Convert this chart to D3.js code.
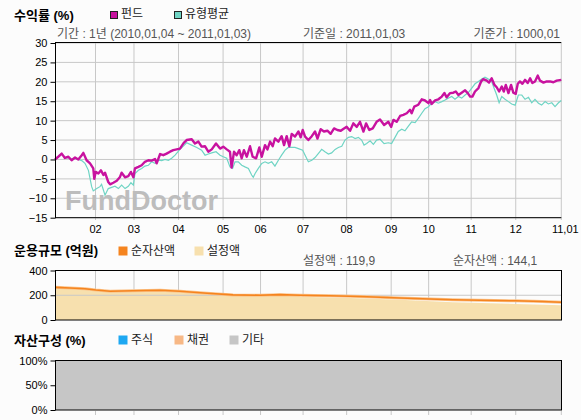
<!DOCTYPE html>
<html><head><meta charset="utf-8">
<script src="https://cdn.jsdelivr.net/npm/d3@7/dist/d3.min.js"></script>
<style>
body{margin:0;background:#fcfcfc;}
svg{display:block;font-family:"Liberation Sans","Noto Sans CJK KR",sans-serif;}
</style></head><body>
<svg id="c" width="581" height="420"></svg>
<script>
// ---- data ----
const monthTickDays = [20, 39, 61, 83, 101.5, 122.5, 144, 166, 184.5, 205.5, 227.5, 250];
const monthTickLabels = ["02","03","04","05","06","07","08","09","10","11","12","11,01"];
const returnTicks = [30,25,20,15,10,5,0,-5,-10,-15];
const sizeTicks = [400,200,0];
const mixTicks = [100,50,0];

// fund return (%) : [trading day, value]
const fundReturn = [
[0,0],[1.6,0.7],[3.3,1.5],[4.9,0.4],[6.6,0.7],[8.2,-0.2],[9.9,0.5],[11.5,0],[13.2,1.1],[14,1.7],[15.6,-0.2],[17.3,-1],[18.9,-2.3],[19.4,-5],[20.1,-3.2],[21.4,-3.6],[22.7,-2.8],[23.9,-4],[24.7,-3.4],[26.3,-5.8],[27.2,-6.4],[28.8,-6],[30.5,-5.5],[32.1,-4.5],[32.9,-3.4],[34.6,-4.6],[36.2,-4.3],[37.5,-3.2],[38.7,-4.6],[39.5,-2.3],[41.2,-1.9],[42.8,-1.5],[44.4,-0.6],[46.1,-0.2],[47.7,-0.3],[49.4,0.1],[50.2,-1],[51.9,1.4],[53.5,1.1],[55.1,1.5],[56.8,2],[58.4,2.4],[60.1,2.6],
[61.7,2.8],[63.5,4.2],[65,5],[67.5,5.2],[69.1,4.1],[70.8,4.6],[72.4,3.3],[74.1,3.4],[75.7,2],[77.4,2.6],[79.5,4.1],[81.5,2.8],[83.1,3.3],[84.8,2.6],[86.4,2],[87.2,-2.1],[88.4,2],[89.7,1.1],[91,2.4],[92.2,0.3],[93.3,2.4],[94.7,0.7],[96.3,3.4],[97.6,0.7],[99.3,0.3],[100.9,3.1],[102.1,0.7],[103.7,3.7],[104.9,2.6],[106.2,4.6],[107.5,3.4],[108.6,5.4],[110.3,4.6],[111.9,6],[113.1,3.7],[114.4,6],[115.7,3.4],[116.9,6.6],[118.5,5.9],[120.2,7.2],[121.3,5.7],[122.3,7.6],[123.5,5.9],[125.1,5],[126.8,6],[128.4,7.2],[129.6,5.4],[131.2,7.8],[132.8,7.2],[134.5,7.4],[136.1,6.6],[137.8,8],[139.4,7.6],[141.1,7.4],[142.7,8],[144,8.4],[145.7,7.4],[147.3,9.3],[149,8.4],[150.6,9.7],[152.3,7.2],[153.6,9.3],[155.2,7.6],[156.9,8],[158.8,9.7],[160.5,10.3],[162.5,8.9],
[164.6,9.7],[166,8.4],[167.1,10.2],[168.7,9.7],[170.4,11.2],[172,11.5],[173.7,11.9],[175.3,12.8],[176.1,11.9],[177.4,13.6],[179.4,14.1],[181.1,15.5],[182.7,15.2],[184.4,14.5],[185.2,15.3],[186,14.3],[187.7,15.2],[189.3,15.5],[191,16.2],[192.3,17.1],[193.4,16],[195.1,17.1],[196.7,17.2],[197.9,17.5],[199.2,16.6],[200.8,17.2],[202.5,17.8],[203.8,17.1],[205,16.2],[206.1,16.2],[207.4,17.5],[209.1,18.4],[210.4,20.1],[211.5,20.7],[213.2,20.3],[214.3,19.8],[215.6,20.9],[217,19.2],[218.1,18.6],[219.3,17.5],[220.6,18.8],[221.6,17.5],[222.6,19.2],[223.9,17.1],[225.2,19.2],[226.3,17.2],[227.5,16.9],[228.5,19.5],[229.6,20.1],[230.8,19.5],[232.1,20.5],[233.4,19.7],[234.6,20.9],[235.7,19.7],[237,20.1],[238.4,21.6],[239.5,20.3],[241.2,19.8],[242.8,20.1],[244.4,20.1],[246.1,19.9],[247.7,20.3],[250,20.5]
];
// peer-group average return (%)
const avgReturn = [
[0,0],[1.6,0.7],[3.3,1.4],[4.9,0.5],[6.6,0.4],[8.2,0.1],[9.9,0.3],[11.5,0],[13.2,-0.3],[14.8,-1],[16.5,-2.8],[18.1,-7],[18.9,-8.1],[20.6,-7.5],[22.2,-7],[23,-6.4],[24.7,-9.2],[26.3,-7.5],[28,-7.2],[29.6,-6.9],[31.3,-7.5],[32.9,-6.6],[34.6,-7.5],[36.2,-6.9],[37.5,-6],[38.7,-6.6],[39.5,-3.6],[41.2,-2.8],[42.8,-2.3],[44.4,-1.7],[46.1,-1.5],[47.7,-0.6],[49.4,-1],[51,-0.2],[52.7,-0.3],[54.3,0],[56,-0.2],[57.6,0.3],[59.3,1.1],
[61.7,2.6],[63.5,3.5],[65,4.3],[67.5,3.7],[70,3.1],[72.4,2.4],[74.1,1.1],[75.7,1.4],[77.4,1.7],[79.5,2],[81.5,1.1],[83.1,0.7],[84.8,0.3],[86.4,-1.9],[87.7,-2.3],[88.9,-0.6],[90.5,-0.6],[92.2,-1.5],[93.8,-1.9],[95.5,-2.3],[97.1,-4],[97.9,-4.6],[98.8,-3.6],[100.4,-2.3],[102.1,-1],[103.7,-0.6],[105.3,-1],[107,-0.6],[108.6,-1.7],[110.3,-0.2],[111.9,1.1],[113.6,2.4],[115.2,3.1],[116.9,3.1],[118.5,3.1],[120.2,2.8],[122.3,2.4],[123.5,1.1],[125.1,-0.6],[126.8,-0.2],[128.4,0.5],[130,1.5],[131.7,2.6],[133.3,2],[135,1.4],[136.6,1.7],[138.3,2.6],[139.9,3.1],[141.6,3.4],[143.2,5],[144.9,5.7],[146.5,5.9],[148.2,5.4],[149.8,5.7],[151.4,5],[152.6,3.7],[153.9,4.1],[155.6,4.8],[157.2,3.9],[158.8,5],[160.5,5.2],[162.5,4.1],
[164.6,4.3],[166.2,4.1],[167.9,5.7],[169.5,7.2],[171.2,7.8],[172.8,7.4],[174.5,8.6],[176.1,9.7],[177.8,9.5],[179.4,10.6],[181.1,11.9],[182.7,13.1],[184.4,13.6],[186,14.5],[187.7,14.9],[189.3,14.5],[191,14.9],[192.6,15.3],[194.2,15.8],[195.9,16.2],[197.5,15.5],[199.2,16.2],[200.8,15.8],[202.5,16.6],[204.1,17.2],[205.8,18.4],[207.4,19.5],[209.1,20.1],[210.7,20.7],[212.3,21.2],[214,20.7],[215.3,20.5],[216.5,18.8],[218.1,16.6],[219.3,14.6],[220.6,16.2],[222.2,15.5],[223.9,14.9],[225.5,14.3],[227.2,14],[228.8,16.6],[230.5,16.6],[232.1,15.5],[233.8,16],[235.4,14.6],[237,15.5],[238.7,14.5],[240.3,14],[242,14.9],[243.6,14.3],[245.3,14.6],[246.9,13.6],[248.6,14.6],[250,15.2]
];
// fund size (억원)
const netAssets = [[0,264],[7.4,258],[14.8,252],[20.2,242],[27.2,232],[38.5,236],[51.9,240],[61.7,232],[75.1,216],[87.9,203],[101.2,200],[111.1,205],[121,200],[135.8,196],[150.6,190],[170.4,178],[185.2,170],[196.5,164],[209.9,160],[227.2,155],[240.5,150],[250,144]];
const setupAmount = [[0,262],[7.4,255],[14.8,249],[20.2,239],[27.2,229],[38.5,233],[51.9,237],[61.7,229],[75.1,213],[87.9,200],[101.2,197],[111.1,200],[120.5,197],[121,188],[145.7,178],[170.4,163],[196.5,143],[227.2,130],[250,120]];
// asset mix (%)
const mixOther = [[0,100],[250,100]];

const fundColor = "#c8129f", avgColor = "#6fd4c4";
const svg = d3.select("#c");
const x = d3.scaleLinear().domain([0,250]).range([55,561.3]);
const gridC = "#c8c8c8";

// ---------- section 1 ----------
svg.append("text").attr("x",14).attr("y",20).attr("font-size",13).attr("font-weight","bold").text("수익률 (%)");
function legend(xp,y,size,color,label,border){
  svg.append("rect").attr("x",xp+0.5).attr("y",y+0.5).attr("width",size).attr("height",size).attr("fill",color).attr("stroke",border?"#222":"none");
  svg.append("text").attr("x",xp+size+4).attr("y",y+size).attr("font-size",12).attr("fill","#222").text(label);
}
legend(110,11,7,fundColor,"펀드",true);
legend(174,11,7,avgColor,"유형평균",true);
svg.append("text").attr("x",57).attr("y",38).attr("font-size",12).attr("fill","#555").text("기간 : 1년 (2010,01,04 ~ 2011,01,03)");
svg.append("text").attr("x",303).attr("y",38).attr("font-size",12).attr("fill","#555").text("기준일 : 2011,01,03");
svg.append("text").attr("x",560).attr("y",38).attr("font-size",12).attr("fill","#555").attr("text-anchor","end").text("기준가 : 1000,01");

const y1 = d3.scaleLinear().domain([-15,30]).range([217.7,43]);
const g1 = svg.append("g");
g1.selectAll(".hg").data(returnTicks).join("line").attr("x1",55).attr("x2",561.3)
  .attr("y1",d=>y1(d)).attr("y2",d=>y1(d)).attr("stroke",gridC);
g1.selectAll(".vg").data(monthTickDays).join("line").attr("x1",d=>x(d)).attr("x2",d=>x(d))
  .attr("y1",43).attr("y2",220).attr("stroke",gridC);
svg.append("text").attr("x",65).attr("y",210).attr("font-size",27).attr("font-weight","bold")
  .attr("fill","#bdbdbd").text("FundDoctor");
const line1 = d3.line().x(d=>x(d[0])).y(d=>y1(d[1]));
svg.append("path").attr("d",line1(avgReturn)).attr("fill","none").attr("stroke",avgColor).attr("stroke-width",1.2);
svg.append("path").attr("d",line1(fundReturn)).attr("fill","none").attr("stroke",fundColor).attr("stroke-width",2.4).attr("stroke-linejoin","round");
svg.append("line").attr("x1",55).attr("x2",561.3).attr("y1",42.5).attr("y2",42.5).attr("stroke","#000");
svg.append("line").attr("x1",55).attr("x2",561.3).attr("y1",217.7).attr("y2",217.7).attr("stroke","#000");
svg.append("line").attr("x1",55.5).attr("x2",55.5).attr("y1",42.5).attr("y2",218).attr("stroke","#000");
const ax1 = svg.append("g").attr("transform","translate(55.5,0)").call(d3.axisLeft(y1).tickValues(returnTicks).tickSize(5).tickFormat(d=>d<0?"−"+(-d):d));
ax1.select(".domain").remove();
ax1.selectAll("text").attr("font-size",11).attr("fill","#000").attr("font-family","Liberation Sans");
ax1.selectAll("line").attr("stroke","#000");
svg.selectAll(".xl").data(monthTickDays).join("text").attr("x",(d,i)=> i===monthTickDays.length-1 ? x(d)+4 : x(d))
  .attr("y",233).attr("font-size",11).attr("text-anchor","middle").text((d,i)=>monthTickLabels[i]);

// ---------- section 2 ----------
svg.append("text").attr("x",14).attr("y",255).attr("font-size",13).attr("font-weight","bold").text("운용규모 (억원)");
legend(118,246,9,"#f5841f","순자산액",false);
legend(194,246,9,"#f7e0ae","설정액",false);
svg.append("text").attr("x",303).attr("y",265).attr("font-size",12).attr("fill","#555").text("설정액 : 119,9");
svg.append("text").attr("x",453).attr("y",265).attr("font-size",12).attr("fill","#555").text("순자산액 : 144,1");
const y2 = d3.scaleLinear().domain([0,400]).range([320,270.5]);
svg.append("path").attr("d",d3.area().x(d=>x(d[0])).y0(y2(0)).y1(d=>y2(d[1]))(setupAmount)).attr("fill","#f7e0ae");
svg.selectAll(".vg2").data(monthTickDays.slice(0,-1)).join("line").attr("x1",d=>x(d)).attr("x2",d=>x(d))
  .attr("y1",270.5).attr("y2",d=>y2(d3.min(setupAmount.filter(p=>p[0]<=d).slice(-1).map(p=>p[1])))).attr("stroke",gridC);
svg.append("line").attr("x1",55).attr("x2",561.3).attr("y1",y2(200)).attr("y2",y2(200)).attr("stroke",gridC);
svg.append("path").attr("d",d3.line().x(d=>x(d[0])).y(d=>y2(d[1]))(netAssets)).attr("fill","none").attr("stroke","#fbc38a").attr("stroke-width",3);
svg.append("path").attr("d",d3.line().x(d=>x(d[0])).y(d=>y2(d[1]))(netAssets)).attr("fill","none").attr("stroke","#f5841f").attr("stroke-width",1.6);
svg.append("rect").attr("x",55.5).attr("y",270.5).attr("width",506).attr("height",49.5).attr("fill","none").attr("stroke","#000");
const ax2 = svg.append("g").attr("transform","translate(55.5,0)").call(d3.axisLeft(y2).tickValues(sizeTicks).tickSize(5));
ax2.select(".domain").remove();
ax2.selectAll("text").attr("font-size",11).attr("fill","#000").attr("font-family","Liberation Sans");
ax2.selectAll("line").attr("stroke","#000");

// ---------- section 3 ----------
svg.append("text").attr("x",14).attr("y",345).attr("font-size",13).attr("font-weight","bold").text("자산구성 (%)");
legend(118,335,9,"#1ea8f2","주식",false);
legend(174,335,9,"#f7b886","채권",false);
legend(229,335,9,"#c6c6c6","기타",false);
const y3 = d3.scaleLinear().domain([0,100]).range([410,360.5]);
svg.append("path").attr("d",d3.area().x(d=>x(d[0])).y0(y3(0)).y1(d=>y3(d[1]))(mixOther)).attr("fill","#c6c6c6");
svg.append("rect").attr("x",55.5).attr("y",360.5).attr("width",506).attr("height",49.5).attr("fill","none").attr("stroke","#000");
svg.selectAll(".t3").data(monthTickDays).join("line").attr("x1",d=>x(d)).attr("x2",d=>x(d))
  .attr("y1",411).attr("y2",415).attr("stroke",gridC);
const ax3 = svg.append("g").attr("transform","translate(55.5,0)").call(d3.axisLeft(y3).tickValues(mixTicks).tickSize(5).tickFormat(d=>d+"%"));
ax3.select(".domain").remove();
ax3.selectAll("text").attr("font-size",11).attr("fill","#000").attr("font-family","Liberation Sans");
ax3.selectAll("line").attr("stroke","#000");
</script>
</body></html>
